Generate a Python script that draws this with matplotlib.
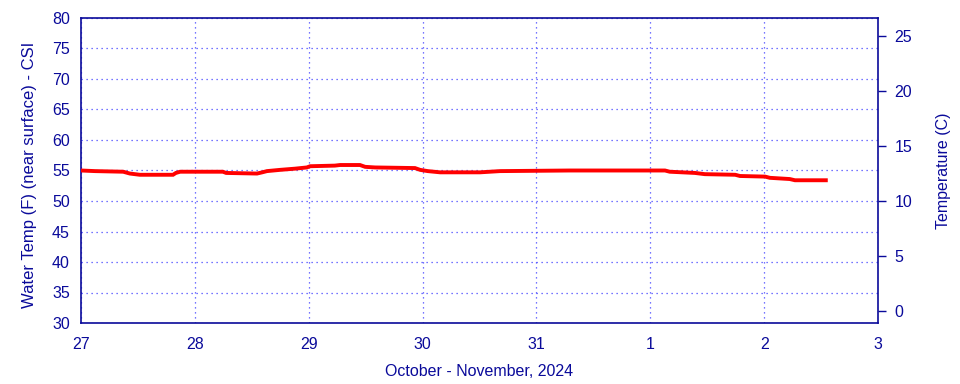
import matplotlib
matplotlib.use("Agg")
import matplotlib.pyplot as plt
from datetime import datetime, timedelta

# hours since 2024-10-27 00:00
hours = [0, 3, 8.9, 10.3, 12.4, 19.4, 20, 20.9, 29.9, 30.6, 37.1, 38.2, 39.2, 41.9,
         45.1, 47.6, 48.3, 53.5, 54.6, 58.8, 59.9, 62, 70.4, 71.5, 73.1, 75.7, 84.1,
         88.3, 103, 123.1, 124.1, 129.4, 131.5, 137.9, 138.9, 144.2, 145.2, 149.4,
         150.5, 157]
temp_f = [55.0, 54.9, 54.8, 54.5, 54.3, 54.3, 54.6, 54.8, 54.8, 54.6, 54.5, 54.7,
          54.9, 55.1, 55.3, 55.5, 55.7, 55.8, 55.9, 55.9, 55.6, 55.5, 55.4, 55.1,
          54.9, 54.7, 54.7, 54.9, 55.0, 55.0, 54.8, 54.6, 54.4, 54.3, 54.1, 54.0,
          53.8, 53.6, 53.4, 53.4]
day_labels = ["27", "28", "29", "30", "31", "1", "2", "3"]

start = datetime(2024, 10, 27)
times = [start + timedelta(hours=h) for h in hours]
ticks = [start + timedelta(days=i) for i in range(len(day_labels))]

navy = "#0a0a9a"
plt.rcParams['font.family'] = ['Liberation Sans', 'DejaVu Sans']

fig = plt.figure(figsize=(9.6, 3.84), dpi=100)
ax = fig.add_axes([81/960, 1-323/384, (878-81)/960, (323-18)/384])
ax.plot(times, temp_f, color='red', lw=2.8, zorder=3, solid_joinstyle='miter')
ax.set_ylim(30, 80)
ax.set_xlim(ticks[0], ticks[-1])
ax.set_yticks(range(30, 81, 5))
ax.set_xticks(ticks)
ax.set_xticklabels(day_labels)
ax.grid(True, color='#4848ff', linestyle=(0, (1, 3)), lw=0.9)
ax.tick_params(axis='both', length=0, colors=navy, labelsize=11.5)
ax.tick_params(axis='x', pad=10)
ax.tick_params(axis='y', pad=8)
for s in ax.spines.values():
    s.set_color(navy)
    s.set_linewidth(1.2)
ax.set_ylabel("Water Temp (F) (near surface) - CSI", color=navy, fontsize=12, labelpad=11)
ax.yaxis.label.set_y(0.485)
ax.set_xlabel("October - November, 2024", color=navy, fontsize=11.5, labelpad=9)

ax2 = ax.twinx()
ax2.set_ylim((30-32)/1.8, (80-32)/1.8)
ax2.set_yticks(range(0, 26, 5))
ax2.tick_params(axis='y', colors=navy, labelsize=11.5, length=6, width=1, pad=6)
for s in ax2.spines.values():
    s.set_visible(False)
ax2.set_ylabel("Temperature (C)", color=navy, fontsize=11.5, labelpad=17)

fig.savefig("out.png", dpi=100)
